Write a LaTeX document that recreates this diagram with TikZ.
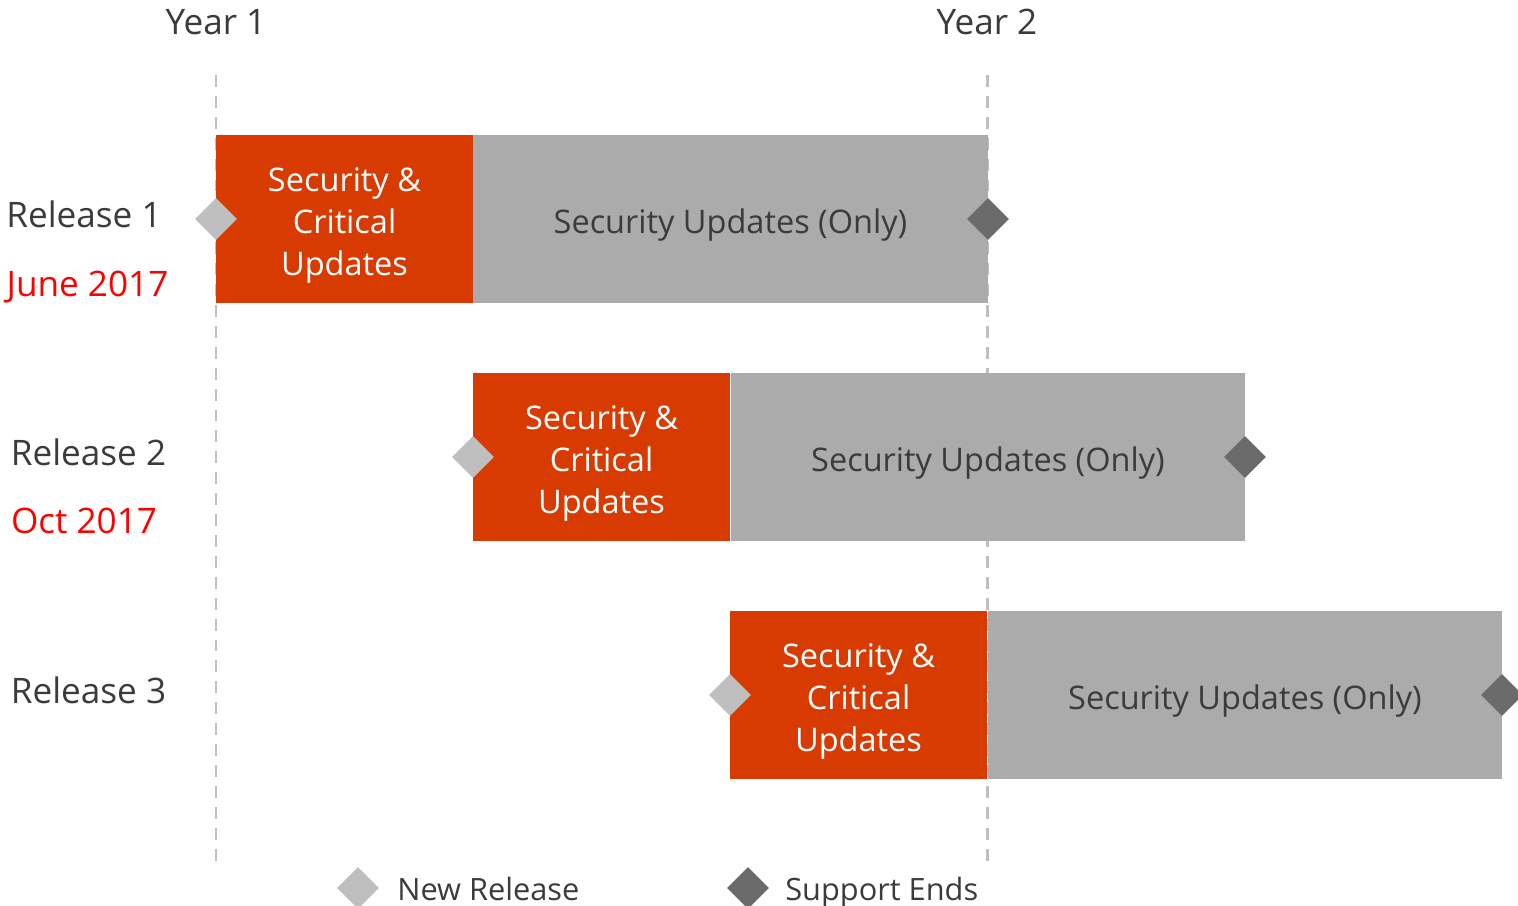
\documentclass[tikz,border=0pt]{standalone}
\usepackage{fontspec}
\setmainfont{Open Sans}
\usepackage{tikz}
\usetikzlibrary{shapes.geometric}
\definecolor{relorange}{HTML}{D83B01}
\definecolor{relgray}{HTML}{ABABAB}
\definecolor{newgray}{HTML}{BFBFBF}
\definecolor{endgray}{HTML}{6B6B6B}
\definecolor{textgray}{HTML}{3B3B3B}
\definecolor{datered}{HTML}{FF0000}

\begin{document}
\begin{tikzpicture}[x=0.02cm,y=-0.02cm,
  label/.style={font=\fontsize{20}{24}\selectfont\color{textgray}, inner sep=0pt, anchor=base},
  date/.style={font=\fontsize{20}{24}\selectfont\color{datered}, inner sep=0pt, anchor=base},
  legend/.style={font=\fontsize{17.5}{20}\selectfont\color{textgray}, inner sep=0pt, anchor=base west},
  critbar/.style={rectangle, fill=relorange, minimum width=5.14cm, minimum height=3.36cm, inner sep=0pt},
  secbar/.style={rectangle, fill=relgray, minimum width=10.3cm, minimum height=3.36cm, inner sep=0pt},
  crittext/.style={align=center, text=white, inner sep=0pt, font=\fontsize{18.5}{23.9}\selectfont},
  sectext/.style={text=textgray, inner sep=0pt, font=\fontsize{18.5}{23.9}\selectfont},
  newrel/.style={diamond, fill=newgray, minimum width=0.84cm, minimum height=0.84cm, inner sep=0pt},
  supend/.style={diamond, fill=endgray, minimum width=0.84cm, minimum height=0.84cm, inner sep=0pt},
  guide/.style={newgray, line width=1.7pt, dash pattern=on 6.8pt off 5.1pt}]
\useasboundingbox (0,0) rectangle (1518,906);

\node[label] (y1) at (216,34) {Year 1};
\node[label] (y2) at (987,34) {Year 2};
\coordinate (g1a) at (216,75);
\coordinate (g1b) at (216,865);
\coordinate (g2a) at (987,75);
\coordinate (g2b) at (987,865);
\draw[guide] (g1a) -- (g1b);
\draw[guide] (g2a) -- (g2b);

% release 1
\node[label] (r1) at (84,227) {Release 1};
\node[date] (d1) at (87.5,296) {June 2017};
\node[critbar] (c1) at (344.5,219) {};
\node[secbar] (s1) at (730.5,219) {};
\node[crittext] (ct1) at (344.5,225) {Security \&\\Critical\\Updates};
\node[sectext] (st1) at (730.5,225) {Security Updates (Only)};
\node[newrel] (n1) at (216,219) {};
\node[supend] (e1) at (988,219) {};

% release 2
\node[label] (r2) at (88.5,465) {Release 2};
\node[date] (d2) at (84,533) {Oct 2017};
\node[critbar] (c2) at (601.5,457) {};
\node[secbar] (s2) at (988,457) {};
\node[crittext] (ct2) at (601.5,463) {Security \&\\Critical\\Updates};
\node[sectext] (st2) at (988,463) {Security Updates (Only)};
\node[newrel] (n2) at (473,457) {};
\node[supend] (e2) at (1245,457) {};

% release 3
\node[label] (r3) at (88.5,703) {Release 3};
\node[critbar] (c3) at (858.5,695) {};
\node[secbar] (s3) at (1245,695) {};
\node[crittext] (ct3) at (858.5,701) {Security \&\\Critical\\Updates};
\node[sectext] (st3) at (1245,701) {Security Updates (Only)};
\node[newrel] (n3) at (730,695) {};
\node[supend] (e3) at (1502,695) {};

% legend
\node[newrel] (ln) at (358,888) {};
\node[legend] (lnt) at (397,900) {New Release};
\node[supend] (le) at (748,888) {};
\node[legend] (let) at (785,900) {Support Ends};
\end{tikzpicture}
\end{document}
